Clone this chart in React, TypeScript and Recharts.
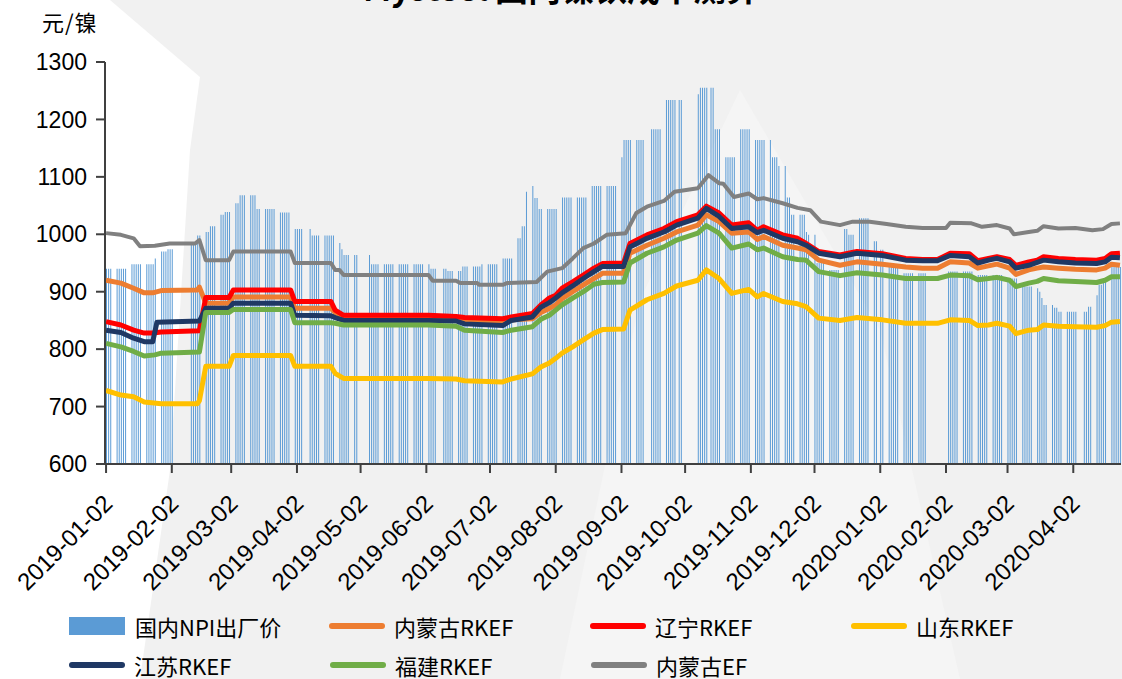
import React from "react";
import { ComposedChart, Bar, Line, XAxis, YAxis } from "recharts";

const startDate = "2019-01-02";
const endDate = "2020-04-24";

const monthTicks = [
  "2019-01-02", "2019-02-02", "2019-03-02", "2019-04-02", "2019-05-02", "2019-06-02",
  "2019-07-02", "2019-08-02", "2019-09-02", "2019-10-02", "2019-11-02", "2019-12-02",
  "2020-01-02", "2020-02-02", "2020-03-02", "2020-04-02",
];
const yTicks = [600, 700, 800, 900, 1000, 1100, 1200, 1300];

// no quotes on these days
const holidays = [
  "2019-02-04", "2019-02-05", "2019-02-06", "2019-02-07", "2019-02-08", "2019-04-05",
  "2019-05-01", "2019-05-02", "2019-05-03", "2019-06-07", "2019-09-13",
  "2019-10-01", "2019-10-02", "2019-10-03", "2019-10-04", "2019-10-07",
  "2020-01-01", "2020-01-24", "2020-01-27", "2020-01-28", "2020-01-29", "2020-01-30",
  "2020-01-31", "2020-04-06",
];
const makeupWorkdays = ["2019-02-02", "2019-09-29", "2019-10-12"];

// 国内NPI出厂价: [from date, price], price holds until the next entry
const npiPrice: [string, number][] = [
  ["2019-01-02", 940], ["2019-01-14", 948], ["2019-01-25", 958], ["2019-01-28", 970],
  ["2019-01-31", 974], ["2019-02-11", 984], ["2019-02-14", 998], ["2019-02-18", 1004],
  ["2019-02-20", 1014], ["2019-02-25", 1034], ["2019-02-27", 1039], ["2019-03-04", 1054],
  ["2019-03-06", 1068], ["2019-03-14", 1044], ["2019-03-25", 1038], ["2019-04-01", 1009],
  ["2019-04-09", 998], ["2019-04-22", 985], ["2019-04-23", 974], ["2019-04-24", 964],
  ["2019-05-07", 948], ["2019-06-04", 940], ["2019-06-12", 936], ["2019-06-19", 944],
  ["2019-06-28", 948], ["2019-07-08", 958], ["2019-07-15", 993], ["2019-07-17", 1014],
  ["2019-07-19", 1074], ["2019-07-22", 1084], ["2019-07-23", 1063], ["2019-07-25", 1044],
  ["2019-08-05", 1064], ["2019-08-19", 1084], ["2019-09-02", 1134], ["2019-09-03", 1164],
  ["2019-09-16", 1183], ["2019-09-23", 1234], ["2019-10-08", 1244], ["2019-10-09", 1255],
  ["2019-10-16", 1183], ["2019-10-21", 1134], ["2019-10-28", 1183], ["2019-11-04", 1164],
  ["2019-11-12", 1134], ["2019-11-15", 1119], ["2019-11-19", 1064], ["2019-11-21", 1034],
  ["2019-11-28", 1004], ["2019-11-29", 999], ["2019-12-03", 950], ["2019-12-09", 938],
  ["2019-12-16", 1009], ["2019-12-18", 999], ["2019-12-23", 1028], ["2019-12-30", 988],
  ["2020-01-02", 973], ["2020-01-06", 944], ["2020-01-13", 932], ["2020-02-03", 935],
  ["2020-02-17", 929], ["2020-03-02", 923], ["2020-03-09", 909], ["2020-03-16", 906],
  ["2020-03-17", 900], ["2020-03-18", 889], ["2020-03-19", 877], ["2020-03-24", 872],
  ["2020-03-26", 865], ["2020-04-09", 874], ["2020-04-13", 894], ["2020-04-14", 912],
  ["2020-04-16", 920], ["2020-04-20", 943],
];

// 内蒙古RKEF
const nmgRkef: [string, number][] = [
  ["2019-01-02", 920], ["2019-01-09", 915], ["2019-01-15", 906], ["2019-01-20", 898],
  ["2019-01-24", 898], ["2019-01-28", 902], ["2019-02-14", 903], ["2019-02-15", 908],
  ["2019-02-18", 880], ["2019-03-01", 880], ["2019-03-03", 891], ["2019-03-30", 891],
  ["2019-04-01", 871], ["2019-04-18", 871], ["2019-04-20", 864], ["2019-04-24", 855],
  ["2019-06-03", 854], ["2019-06-16", 852], ["2019-06-20", 849], ["2019-07-08", 847],
  ["2019-07-12", 851], ["2019-07-22", 853], ["2019-07-26", 864], ["2019-07-30", 871],
  ["2019-08-02", 877], ["2019-08-05", 888], ["2019-08-10", 900], ["2019-08-15", 912],
  ["2019-08-20", 923], ["2019-08-24", 932], ["2019-09-03", 932], ["2019-09-06", 967],
  ["2019-09-14", 981], ["2019-09-22", 993], ["2019-09-28", 1004], ["2019-10-08", 1016],
  ["2019-10-12", 1034], ["2019-10-18", 1022], ["2019-10-24", 1002], ["2019-11-01", 1004],
  ["2019-11-05", 991], ["2019-11-08", 996], ["2019-11-17", 981], ["2019-11-24", 976],
  ["2019-11-28", 973], ["2019-12-04", 955], ["2019-12-14", 946], ["2019-12-22", 952],
  ["2020-01-03", 948], ["2020-01-14", 943], ["2020-01-22", 941], ["2020-01-29", 941],
  ["2020-02-04", 952], ["2020-02-13", 950], ["2020-02-17", 941], ["2020-02-22", 945],
  ["2020-02-26", 948], ["2020-03-03", 941], ["2020-03-06", 930], ["2020-03-12", 938],
  ["2020-03-16", 941], ["2020-03-19", 943], ["2020-03-26", 941], ["2020-04-03", 939],
  ["2020-04-13", 938], ["2020-04-17", 941], ["2020-04-20", 948], ["2020-04-24", 946],
];

// 辽宁RKEF
const lnRkef: [string, number][] = [
  ["2019-01-02", 848], ["2019-01-09", 842], ["2019-01-15", 833], ["2019-01-20", 828],
  ["2019-01-24", 828], ["2019-01-28", 830], ["2019-02-15", 832], ["2019-02-18", 890],
  ["2019-03-01", 890], ["2019-03-03", 903], ["2019-03-30", 903], ["2019-04-01", 883],
  ["2019-04-18", 883], ["2019-04-20", 868], ["2019-04-24", 859], ["2019-06-03", 859],
  ["2019-06-16", 857], ["2019-06-20", 855], ["2019-07-08", 853], ["2019-07-12", 856],
  ["2019-07-22", 862], ["2019-07-26", 877], ["2019-07-30", 889], ["2019-08-02", 894],
  ["2019-08-05", 906], ["2019-08-10", 917], ["2019-08-15", 929], ["2019-08-20", 941],
  ["2019-08-24", 949], ["2019-09-03", 950], ["2019-09-06", 984], ["2019-09-14", 999],
  ["2019-09-22", 1010], ["2019-09-28", 1022], ["2019-10-08", 1034], ["2019-10-12", 1049],
  ["2019-10-18", 1037], ["2019-10-24", 1016], ["2019-11-01", 1020], ["2019-11-05", 1007],
  ["2019-11-08", 1013], ["2019-11-17", 999], ["2019-11-24", 993], ["2019-11-28", 984],
  ["2019-12-04", 970], ["2019-12-14", 964], ["2019-12-22", 970], ["2020-01-03", 966],
  ["2020-01-14", 958], ["2020-01-22", 956], ["2020-01-29", 956], ["2020-02-04", 967],
  ["2020-02-13", 966], ["2020-02-17", 954], ["2020-02-22", 958], ["2020-02-26", 961],
  ["2020-03-03", 956], ["2020-03-06", 946], ["2020-03-12", 952], ["2020-03-16", 955],
  ["2020-03-19", 961], ["2020-03-26", 958], ["2020-04-03", 956], ["2020-04-13", 955],
  ["2020-04-17", 958], ["2020-04-20", 966], ["2020-04-24", 967],
];

// 山东RKEF
const sdRkef: [string, number][] = [
  ["2019-01-02", 728], ["2019-01-09", 720], ["2019-01-15", 717], ["2019-01-20", 708],
  ["2019-01-28", 705], ["2019-02-14", 705], ["2019-02-15", 710], ["2019-02-18", 770],
  ["2019-03-01", 770], ["2019-03-03", 789], ["2019-03-30", 789], ["2019-04-01", 770],
  ["2019-04-18", 770], ["2019-04-20", 758], ["2019-04-24", 749], ["2019-06-03", 749],
  ["2019-06-16", 748], ["2019-06-20", 745], ["2019-07-08", 743], ["2019-07-12", 748],
  ["2019-07-22", 757], ["2019-07-26", 769], ["2019-07-30", 776], ["2019-08-02", 784],
  ["2019-08-05", 793], ["2019-08-10", 804], ["2019-08-15", 816], ["2019-08-20", 828],
  ["2019-08-24", 834], ["2019-09-03", 835], ["2019-09-06", 868], ["2019-09-14", 886],
  ["2019-09-22", 897], ["2019-09-28", 910], ["2019-10-08", 920], ["2019-10-12", 938],
  ["2019-10-18", 923], ["2019-10-24", 897], ["2019-11-01", 904], ["2019-11-05", 891],
  ["2019-11-08", 897], ["2019-11-17", 883], ["2019-11-24", 879], ["2019-11-28", 874],
  ["2019-12-04", 854], ["2019-12-14", 850], ["2019-12-22", 855], ["2020-01-03", 851],
  ["2020-01-14", 845], ["2020-01-29", 845], ["2020-02-04", 851], ["2020-02-13", 850],
  ["2020-02-17", 841], ["2020-02-22", 842], ["2020-02-26", 845], ["2020-03-03", 840],
  ["2020-03-06", 827], ["2020-03-12", 833], ["2020-03-16", 834], ["2020-03-19", 842],
  ["2020-03-26", 840], ["2020-04-03", 839], ["2020-04-13", 838], ["2020-04-17", 841],
  ["2020-04-20", 847], ["2020-04-24", 848],
];

// 江苏RKEF
const jsRkef: [string, number][] = [
  ["2019-01-02", 833], ["2019-01-09", 829], ["2019-01-15", 819], ["2019-01-20", 813],
  ["2019-01-24", 813], ["2019-01-26", 847], ["2019-02-15", 849], ["2019-02-18", 871],
  ["2019-03-01", 871], ["2019-03-03", 880], ["2019-03-30", 880], ["2019-04-01", 859],
  ["2019-04-18", 858], ["2019-04-20", 855], ["2019-04-24", 850], ["2019-06-03", 850],
  ["2019-06-16", 849], ["2019-06-20", 844], ["2019-07-08", 841], ["2019-07-12", 850],
  ["2019-07-22", 856], ["2019-07-26", 873], ["2019-07-30", 881], ["2019-08-02", 889],
  ["2019-08-05", 898], ["2019-08-10", 910], ["2019-08-15", 923], ["2019-08-20", 935],
  ["2019-08-24", 944], ["2019-09-03", 944], ["2019-09-06", 978], ["2019-09-14", 993],
  ["2019-09-22", 1004], ["2019-09-28", 1016], ["2019-10-08", 1028], ["2019-10-12", 1045],
  ["2019-10-18", 1031], ["2019-10-24", 1010], ["2019-11-01", 1013], ["2019-11-05", 1003],
  ["2019-11-08", 1007], ["2019-11-17", 993], ["2019-11-24", 987], ["2019-11-28", 981],
  ["2019-12-04", 967], ["2019-12-14", 961], ["2019-12-22", 967], ["2020-01-03", 963],
  ["2020-01-14", 955], ["2020-01-22", 954], ["2020-01-29", 954], ["2020-02-04", 963],
  ["2020-02-13", 961], ["2020-02-17", 950], ["2020-02-22", 955], ["2020-02-26", 958],
  ["2020-03-03", 952], ["2020-03-06", 941], ["2020-03-12", 946], ["2020-03-16", 951],
  ["2020-03-19", 955], ["2020-03-26", 952], ["2020-04-03", 950], ["2020-04-13", 949],
  ["2020-04-17", 952], ["2020-04-20", 960], ["2020-04-24", 959],
];

// 福建RKEF
const fjRkef: [string, number][] = [
  ["2019-01-02", 810], ["2019-01-09", 804], ["2019-01-15", 796], ["2019-01-20", 788],
  ["2019-01-25", 790], ["2019-01-28", 793], ["2019-02-15", 795], ["2019-02-18", 864],
  ["2019-03-01", 864], ["2019-03-03", 869], ["2019-03-30", 869], ["2019-04-01", 846],
  ["2019-04-18", 846], ["2019-04-20", 845], ["2019-04-24", 842], ["2019-06-03", 842],
  ["2019-06-16", 840], ["2019-06-20", 833], ["2019-07-08", 829], ["2019-07-12", 833],
  ["2019-07-22", 839], ["2019-07-26", 852], ["2019-07-30", 859], ["2019-08-02", 868],
  ["2019-08-05", 877], ["2019-08-10", 889], ["2019-08-15", 900], ["2019-08-20", 913],
  ["2019-08-24", 916], ["2019-09-03", 917], ["2019-09-06", 950], ["2019-09-14", 967],
  ["2019-09-22", 978], ["2019-09-28", 990], ["2019-10-08", 1002], ["2019-10-12", 1015],
  ["2019-10-18", 1002], ["2019-10-24", 976], ["2019-11-01", 983], ["2019-11-05", 973],
  ["2019-11-08", 976], ["2019-11-17", 961], ["2019-11-24", 956], ["2019-11-28", 955],
  ["2019-12-04", 935], ["2019-12-14", 928], ["2019-12-22", 933], ["2020-01-03", 929],
  ["2020-01-14", 923], ["2020-01-29", 923], ["2020-02-04", 929], ["2020-02-13", 928],
  ["2020-02-17", 921], ["2020-02-22", 923], ["2020-02-26", 925], ["2020-03-03", 920],
  ["2020-03-06", 909], ["2020-03-12", 915], ["2020-03-16", 918], ["2020-03-19", 923],
  ["2020-03-26", 919], ["2020-04-03", 918], ["2020-04-13", 916], ["2020-04-17", 920],
  ["2020-04-20", 926], ["2020-04-24", 926],
];

// 内蒙古EF
const nmgEf: [string, number][] = [
  ["2019-01-02", 1002], ["2019-01-09", 999], ["2019-01-15", 993], ["2019-01-18", 979],
  ["2019-01-25", 980], ["2019-02-01", 984], ["2019-02-13", 984], ["2019-02-15", 990],
  ["2019-02-18", 955], ["2019-03-01", 955], ["2019-03-03", 970], ["2019-03-30", 970],
  ["2019-04-01", 950], ["2019-04-18", 950], ["2019-04-20", 938], ["2019-04-22", 938],
  ["2019-04-24", 929], ["2019-06-03", 929], ["2019-06-05", 919], ["2019-06-16", 919],
  ["2019-06-18", 915], ["2019-06-26", 915], ["2019-06-27", 912], ["2019-07-08", 912],
  ["2019-07-10", 915], ["2019-07-24", 917], ["2019-07-29", 935], ["2019-08-05", 941],
  ["2019-08-10", 958], ["2019-08-15", 976], ["2019-08-20", 984], ["2019-08-26", 999],
  ["2019-09-04", 1002], ["2019-09-09", 1037], ["2019-09-14", 1048], ["2019-09-22", 1058],
  ["2019-09-27", 1074], ["2019-10-08", 1080], ["2019-10-13", 1103], ["2019-10-18", 1089],
  ["2019-10-20", 1088], ["2019-10-25", 1065], ["2019-11-01", 1071], ["2019-11-05", 1061],
  ["2019-11-08", 1063], ["2019-11-17", 1054], ["2019-11-24", 1046], ["2019-11-30", 1042],
  ["2019-12-05", 1022], ["2019-12-14", 1016], ["2019-12-20", 1022], ["2019-12-28", 1022],
  ["2020-01-05", 1018], ["2020-01-14", 1013], ["2020-01-22", 1011], ["2020-02-02", 1011],
  ["2020-02-04", 1020], ["2020-02-14", 1019], ["2020-02-19", 1013], ["2020-02-26", 1016],
  ["2020-03-03", 1010], ["2020-03-05", 1000], ["2020-03-12", 1004], ["2020-03-16", 1006],
  ["2020-03-19", 1014], ["2020-03-26", 1010], ["2020-04-03", 1011], ["2020-04-11", 1007],
  ["2020-04-16", 1009], ["2020-04-20", 1018], ["2020-04-24", 1019],
];

const addDay = (s: string) => {
  const d = new Date(s + "T00:00:00Z");
  d.setUTCDate(d.getUTCDate() + 1);
  return d.toISOString().slice(0, 10);
};

const isWorkday = (s: string) => {
  if (makeupWorkdays.includes(s)) return true;
  const wd = new Date(s + "T00:00:00Z").getUTCDay();
  if (wd === 0 || wd === 6) return false;
  return !holidays.includes(s);
};

const priceOn = (s: string) => {
  let v: number | null = null;
  for (const [from, p] of npiPrice) if (from <= s) v = p;
  return v;
};

const seriesMaps = {
  nmg: new Map(nmgRkef),
  ln: new Map(lnRkef),
  sd: new Map(sdRkef),
  js: new Map(jsRkef),
  fj: new Map(fjRkef),
  ef: new Map(nmgEf),
};

const rows: any[] = [];
for (let d = startDate; d <= endDate; d = addDay(d)) {
  rows.push({
    date: d,
    npi: isWorkday(d) ? priceOn(d) : null,
    nmg: seriesMaps.nmg.get(d) ?? null,
    ln: seriesMaps.ln.get(d) ?? null,
    sd: seriesMaps.sd.get(d) ?? null,
    js: seriesMaps.js.get(d) ?? null,
    fj: seriesMaps.fj.get(d) ?? null,
    ef: seriesMaps.ef.get(d) ?? null,
  });
}

const lineSeries = [
  { key: "nmg", name: "内蒙古RKEF", color: "#ED7D31", width: 5 },
  { key: "ln", name: "辽宁RKEF", color: "#FF0000", width: 5 },
  { key: "sd", name: "山东RKEF", color: "#FFC000", width: 5 },
  { key: "js", name: "江苏RKEF", color: "#1F3864", width: 5 },
  { key: "fj", name: "福建RKEF", color: "#70AD47", width: 5 },
  { key: "ef", name: "内蒙古EF", color: "#808080", width: 4 },
];

const latin = "'Liberation Sans', Arial, sans-serif";
const cjk = "'Noto Sans CJK SC', 'Liberation Sans', sans-serif";

function DateTick(props: any) {
  const { x, y, payload } = props;
  return (
    <text
      transform={`translate(${x + 8},${y + 30}) rotate(-45)`}
      textAnchor="end"
      fontSize={24}
      fontFamily={latin}
      fill="#000"
    >
      {payload.value}
    </text>
  );
}

function LegendRow() {
  const items = [
    { name: "国内NPI出厂价", color: "#5B9BD5", bar: true, left: 69, top: 626 },
    { name: "内蒙古RKEF", color: "#ED7D31", left: 329, top: 626 },
    { name: "辽宁RKEF", color: "#FF0000", left: 590, top: 626 },
    { name: "山东RKEF", color: "#FFC000", left: 851, top: 626 },
    { name: "江苏RKEF", color: "#1F3864", left: 69, top: 665 },
    { name: "福建RKEF", color: "#70AD47", left: 330, top: 665 },
    { name: "内蒙古EF", color: "#808080", left: 591, top: 665 },
  ];
  return (
    <>
      {items.map((it) => (
        <div
          key={it.name}
          style={{
            position: "absolute",
            left: it.left,
            top: it.top - 12,
            height: 24,
            lineHeight: "24px",
            display: "flex",
            alignItems: "center",
            fontFamily: cjk,
            fontSize: 22,
            color: "#000",
            whiteSpace: "nowrap",
          }}
        >
          <span
            style={{
              display: "inline-block",
              width: 56,
              height: it.bar ? 18 : 6,
              borderRadius: it.bar ? 0 : 3,
              background: it.color,
              marginRight: it.bar ? 10 : 9,
            }}
          />
          {it.name}
        </div>
      ))}
    </>
  );
}

export default function App() {
  return (
    <div
      style={{
        position: "fixed",
        left: 0,
        top: 0,
        width: 1122,
        height: 679,
        overflow: "hidden",
        background: "#f1f1f1",
      }}
    >
      <svg width={1122} height={679} style={{ position: "absolute", left: 0, top: 0 }}>
        <polygon points="0,0 110,0 200,77 190,150 170,470 140,679 0,679" fill="#ffffff" />
        <polygon points="560,679 640,300 740,90 880,330 960,679" fill="#f5f5f5" />
      </svg>
      <div
        style={{
          position: "absolute",
          left: 0,
          width: 1122,
          top: -33,
          textAlign: "center",
          fontFamily: cjk,
          fontWeight: 700,
          fontSize: 33,
          lineHeight: "40px",
          color: "#000",
        }}
      >
        Mysteel 国内镍铁成本测算
      </div>
      <div
        style={{
          position: "absolute",
          left: 42,
          top: 5,
          fontFamily: cjk,
          fontSize: 22,
          color: "#000",
          letterSpacing: 1,
        }}
      >
        元/镍
      </div>
      <div style={{ position: "absolute", left: 0, top: 0 }}>
        <ComposedChart
          width={1122}
          height={620}
          data={rows}
          margin={{ top: 62, right: 1, left: 1, bottom: 0 }}
          barCategoryGap={0}
        >
          <XAxis
            dataKey="date"
            ticks={monthTicks}
            interval={0}
            height={156}
            tickSize={9}
            axisLine={{ stroke: "#404040", strokeWidth: 2 }}
            tickLine={{ stroke: "#404040", strokeWidth: 2 }}
            tick={<DateTick />}
          />
          <YAxis
            domain={[600, 1300]}
            ticks={yTicks}
            width={104}
            tickSize={9}
            tickMargin={9}
            allowDataOverflow
            axisLine={{ stroke: "#404040", strokeWidth: 2 }}
            tickLine={{ stroke: "#404040", strokeWidth: 2 }}
            tick={{ fontSize: 23, fill: "#000", fontFamily: latin }}
          />
          <Bar dataKey="npi" name="国内NPI出厂价" fill="#5B9BD5" barSize={1} isAnimationActive={false} />
          {lineSeries.map((s) => (
            <Line
              key={s.key}
              type="linear"
              dataKey={s.key}
              name={s.name}
              stroke={s.color}
              strokeWidth={s.width}
              strokeLinejoin="round"
              dot={false}
              activeDot={false}
              connectNulls
              isAnimationActive={false}
            />
          ))}
        </ComposedChart>
      </div>
      <LegendRow />
    </div>
  );
}
